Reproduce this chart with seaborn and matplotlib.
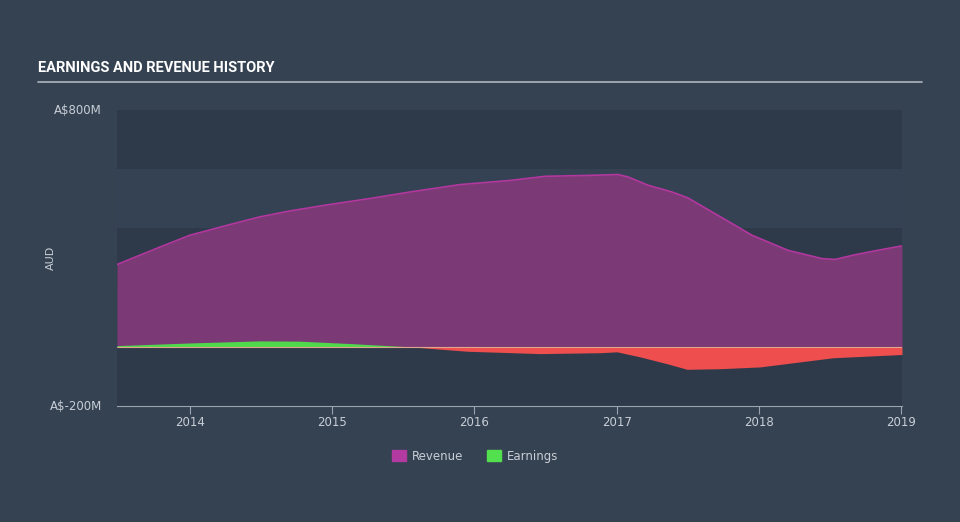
import numpy as np
import pandas as pd
import matplotlib
matplotlib.use("Agg")
import matplotlib.pyplot as plt
import matplotlib.patches as mpatches
from matplotlib.transforms import Bbox
import seaborn as sns

# ---- data (A$ millions) ----
rev_t = [2013.487, 2013.789, 2014.0, 2014.281, 2014.492, 2014.703, 2014.985, 2015.266,
         2015.547, 2015.899, 2016.25, 2016.497, 2016.799, 2017.01, 2017.08, 2017.221,
         2017.39, 2017.502, 2017.713, 2017.952, 2018.205, 2018.444, 2018.536, 2018.677,
         2018.838, 2019.007]
revenue = [278, 337, 377, 413, 439, 459, 481, 501, 523, 548, 562, 576, 579, 582, 574,
           546, 523, 503, 444, 377, 326, 298, 295, 311, 326, 341]
earn_t = [2013.487, 2014.0, 2014.49, 2014.77, 2015.125, 2015.547, 2015.948, 2016.461,
          2016.883, 2017.003, 2017.165, 2017.354, 2017.495, 2017.727, 2018.008, 2018.29,
          2018.522, 2019.007]
earnings = [4, 13, 20, 19, 11, 0, -15, -23, -20, -17, -34, -57, -76, -74, -68, -51,
            -37, -26]
year_ticks = [2014, 2015, 2016, 2017, 2018, 2019]
y_tick_vals = [800, -200]
y_tick_labels = ["A$800M", "A$-200M"]
legend_labels = ["Revenue", "Earnings"]

rev_df = pd.DataFrame({"t": rev_t, "value": revenue})
earn_df = pd.DataFrame({"t": earn_t, "value": earnings})

BG = "#344252"
PLOT_BG = "#2e3a4a"
BAND = "#344253"
REV_FILL = "#7b3a75"
REV_LINE = "#b3379f"
EARN_POS = "#4fd84b"
EARN_NEG = "#ee4e4e"
TXT = "#c9ced6"

sns.set_theme(style="dark")
plt.rcParams["font.family"] = ["DejaVu Sans"]

W, H = 960, 522
fig = plt.figure(figsize=(9.6, 5.22), dpi=100, facecolor=BG)
ax = fig.add_axes([117 / W, 1 - 406 / H, (902 - 117) / W, (406 - 110) / H])
ax.set_facecolor(PLOT_BG)

# horizontal bands
for lo, hi in [(400, 600), (0, 200)]:
    ax.axhspan(lo, hi, color=BAND, lw=0, zorder=0)

xr = rev_df["t"].values
yr = rev_df["value"].values
xe = earn_df["t"].values
ye = earn_df["value"].values

ax.fill_between(xr, 0, yr, color=REV_FILL, lw=0, zorder=1)
sns.lineplot(data=rev_df, x="t", y="value", ax=ax, color=REV_LINE, lw=1.2, zorder=3)

ax.fill_between(xe, 0, ye, where=ye >= 0, interpolate=True, color=EARN_POS, lw=0, zorder=2)
ax.fill_between(xe, 0, ye, where=ye <= 0, interpolate=True, color=EARN_NEG, lw=0, zorder=2)
ax.axhline(0, color="#e0a58c", lw=0.8, zorder=2.5)

ax.set_xlim(2013.487, 2019.007)
ax.set_ylim(-200, 800)
ax.set_xlabel("")
ax.set_ylabel("")

ax.set_xticks(year_ticks)
ax.set_xticklabels([str(y) for y in year_ticks], color=TXT, fontsize=8.5)
ax.tick_params(axis="x", length=6, width=0.8, color="#9aa3ae", pad=1, bottom=True)
ax.set_yticks([])

for s in ["top", "right", "left"]:
    ax.spines[s].set_visible(False)
ax.spines["bottom"].set_color("#9aa3ae")
ax.spines["bottom"].set_linewidth(0.8)

# y labels
for v, lab in zip(y_tick_vals, y_tick_labels):
    yp = ax.transData.transform((0, v))[1] / H
    fig.text(102 / W, yp, lab, color=TXT, fontsize=8.5, ha="right", va="center")
fig.text(51 / W, 1 - 258 / H, "AUD", color=TXT, fontsize=8, rotation=90,
         ha="center", va="center")

# title and rule
fig.text(38 / W, 1 - 68 / H, "EARNINGS AND REVENUE HISTORY", color="white",
         fontsize=10.5, fontweight="bold", ha="left", va="center",
         family=["Roboto", "DejaVu Sans"])
fig.add_artist(plt.Line2D([38 / W, 922 / W], [1 - 82 / H, 1 - 82 / H],
                          color="#b0b6bd", lw=1.2))

# legend
handles = [mpatches.Patch(color="#b23aa0", label=legend_labels[0]),
           mpatches.Patch(color="#52e04f", label=legend_labels[1])]
leg = fig.legend(handles=handles, loc="center", bbox_to_anchor=(475 / W, 1 - 456 / H),
                 ncol=2, frameon=False, fontsize=8.5, handlelength=1.2, handleheight=1.0,
                 columnspacing=2.0, handletextpad=0.5)
for t in leg.get_texts():
    t.set_color(TXT)

fig.savefig("out.png", dpi=100, facecolor=BG)
